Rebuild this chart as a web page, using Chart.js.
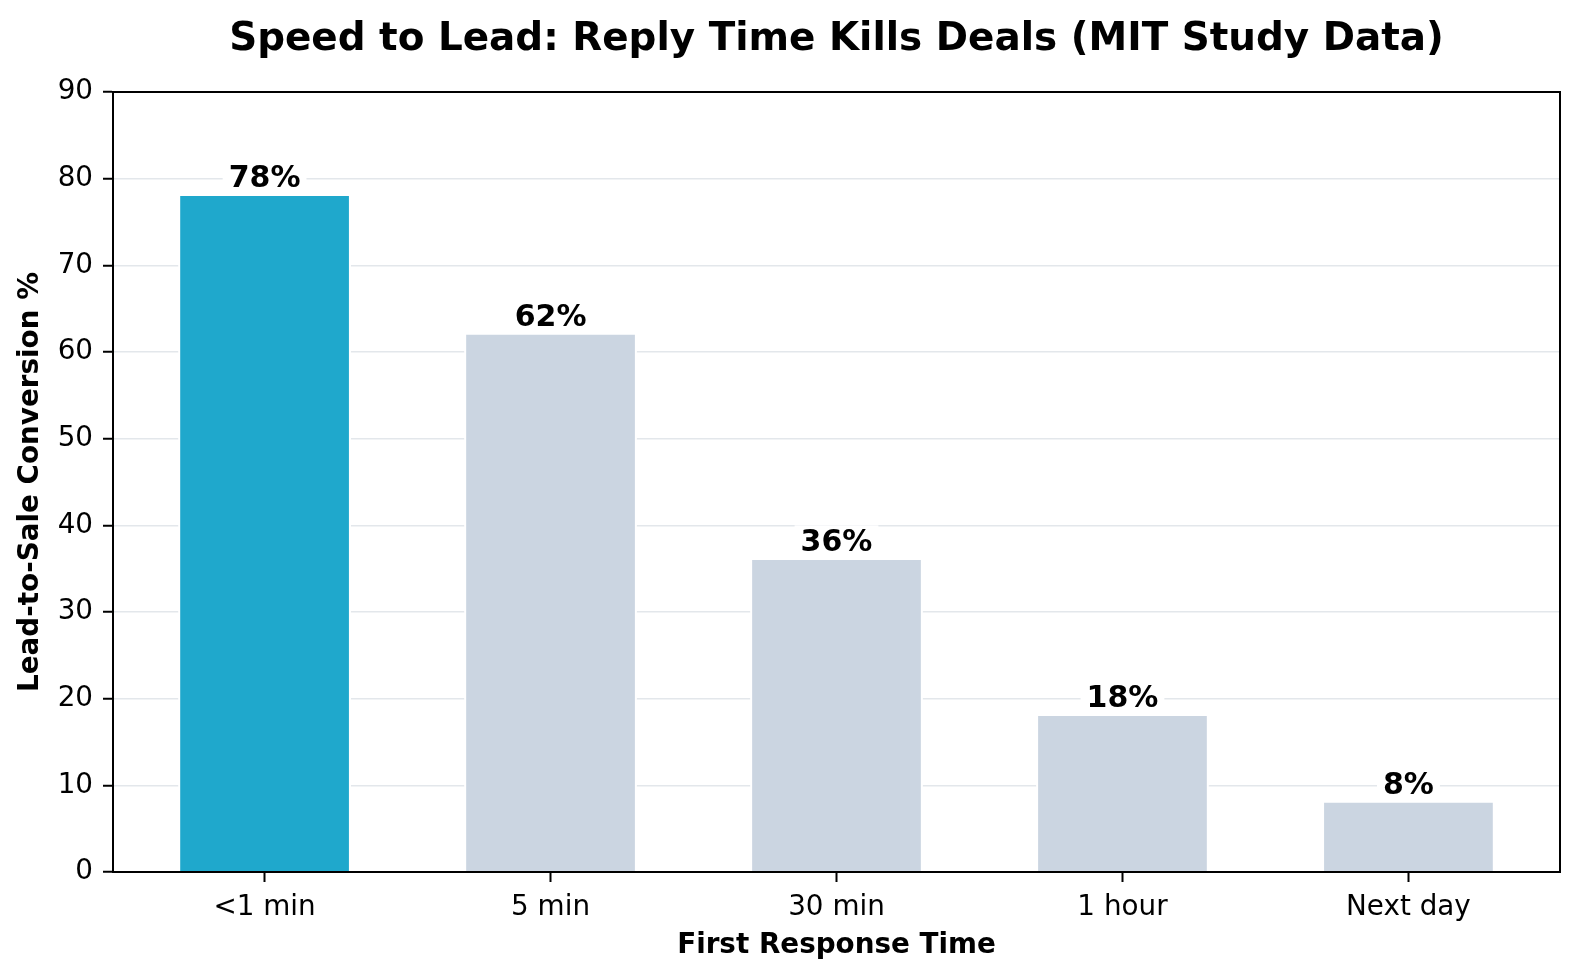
<!DOCTYPE html>
<html>
<head>
<meta charset="utf-8">
<script src="https://cdn.jsdelivr.net/npm/chart.js@4.4.1/dist/chart.umd.min.js"></script>
<style>
  html, body { margin: 0; padding: 0; background: #fff; }
  #wrap { width: 1580px; height: 980px; }
</style>
</head>
<body>
<div id="wrap"><canvas id="chart" width="1580" height="980"></canvas></div>
<script>
// chart data
const categories = ['<1 min', '5 min', '30 min', '1 hour', 'Next day'];
const conversion = [78, 62, 36, 18, 8];
const barColors = ['#1fa8cc', '#cbd5e1', '#cbd5e1', '#cbd5e1', '#cbd5e1'];
const valueLabels = ['78%', '62%', '36%', '18%', '8%'];

const titleText = 'Speed to Lead: Reply Time Kills Deals (MIT Study Data)';
const FONT = '"DejaVu Sans", "Liberation Sans", sans-serif';

// title above the plot
const titlePlugin = {
    id: 'mainTitle',
    afterDraw(chart) {
        const {ctx, chartArea} = chart;
        ctx.save();
        ctx.font = 'bold 38.9px ' + FONT;
        ctx.fillStyle = '#000';
        ctx.textAlign = 'center';
        ctx.textBaseline = 'alphabetic';
        ctx.fillText(titleText, (chartArea.left + chartArea.right) / 2, 50);
        ctx.restore();
    }
};

// white edge round each bar, like the reference
const barHalo = {
    id: 'barHalo',
    beforeDatasetsDraw(chart) {
        const {ctx} = chart;
        const meta = chart.getDatasetMeta(0);
        ctx.save();
        ctx.fillStyle = '#fff';
        meta.data.forEach(bar => {
            const p = bar.getProps(['x', 'y', 'base', 'width'], true);
            ctx.fillRect(p.x - p.width / 2 - 2, p.y - 2, p.width + 4, p.base - p.y + 2);
        });
        ctx.restore();
    }
};

// value labels and the closed frame
const labelsAndFrame = {
    id: 'labelsAndFrame',
    afterDatasetsDraw(chart) {
        const {ctx, chartArea, scales} = chart;
        const meta = chart.getDatasetMeta(0);
        ctx.save();
        ctx.font = 'bold 30px ' + FONT;
        ctx.textAlign = 'center';
        ctx.textBaseline = 'alphabetic';
        meta.data.forEach((bar, i) => {
            const x = bar.x;
            const y = scales.y.getPixelForValue(conversion[i] + 1);
            const w = ctx.measureText(valueLabels[i]).width;
            ctx.fillStyle = '#fff';
            ctx.fillRect(x - w / 2 - 6, y - 26, w + 12, 30);
            ctx.fillStyle = '#000';
            ctx.fillText(valueLabels[i], x, y);
        });
        ctx.strokeStyle = '#000';
        ctx.lineWidth = 2;
        ctx.strokeRect(chartArea.left, chartArea.top, chartArea.right - chartArea.left, chartArea.bottom - chartArea.top);
        ctx.restore();
    }
};

const ctx = document.getElementById('chart');
new Chart(ctx, {
    type: 'bar',
    data: {
        datasets: [{
            data: conversion.map((v, i) => ({x: i, y: v})),
            backgroundColor: barColors,
            borderWidth: 0,
            barPercentage: 0.59,
            categoryPercentage: 1.0
        }]
    },
    options: {
        responsive: false,
        devicePixelRatio: 1,
        animation: false,
        layout: {
            padding: {top: 92, right: 20, left: 0, bottom: 0}
        },
        plugins: {
            legend: {display: false},
            tooltip: {enabled: false},
            title: {display: false}
        },
        scales: {
            x: {
                type: 'linear',
                min: -0.53,
                max: 4.53,
                offset: false,
                afterBuildTicks: axis => {
                    axis.ticks = categories.map((c, i) => ({value: i}));
                },
                afterFit: axis => { axis.height = 108; },
                ticks: {
                    callback: v => categories[v],
                    autoSkip: false,
                    maxRotation: 0,
                    color: '#000',
                    padding: 9,
                    font: {family: FONT, size: 27.8}
                },
                grid: {
                    offset: false,
                    drawOnChartArea: false,
                    drawTicks: true,
                    tickLength: 10,
                    tickColor: '#000',
                    tickWidth: 2
                },
                border: {display: true, color: '#000', width: 2},
                title: {
                    display: true,
                    text: 'First Response Time',
                    color: '#000',
                    font: {family: FONT, size: 27.8, weight: 'bold'},
                    padding: {top: 0, bottom: 18}
                }
            },
            y: {
                min: 0,
                max: 90,
                afterFit: axis => { axis.width = 113; },
                ticks: {
                    stepSize: 10,
                    color: '#000',
                    padding: 10,
                    font: {family: FONT, size: 27.8}
                },
                grid: {
                    color: '#e3e7eb',
                    lineWidth: 1.5,
                    tickLength: 10,
                    tickColor: '#000',
                    tickWidth: 2
                },
                border: {display: true, color: '#000', width: 2},
                title: {
                    display: true,
                    text: 'Lead-to-Sale Conversion %',
                    color: '#000',
                    font: {family: FONT, size: 27.8, weight: 'bold'},
                    padding: {top: 14, bottom: 0}
                }
            }
        }
    },
    plugins: [titlePlugin, barHalo, labelsAndFrame]
});
</script>
</body>
</html>
